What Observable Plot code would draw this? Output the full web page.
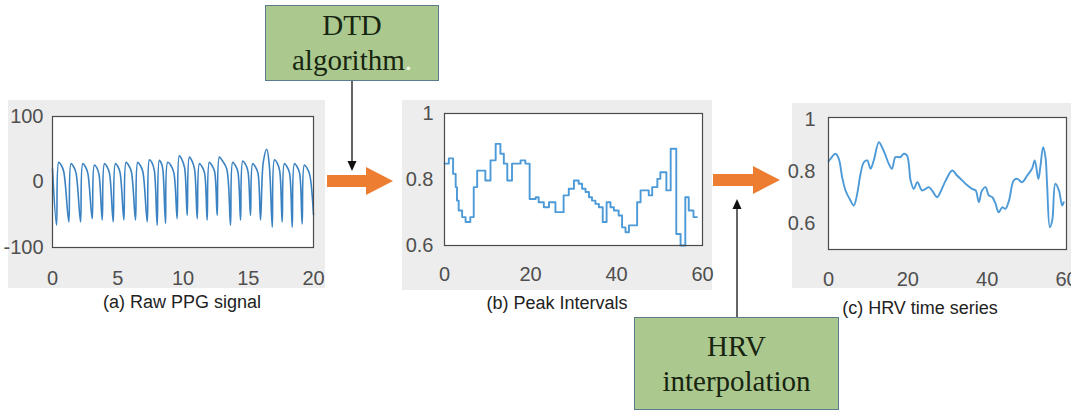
<!DOCTYPE html>
<html><head><meta charset="utf-8">
<script src="https://cdn.jsdelivr.net/npm/d3@7"></script>
<script src="https://cdn.jsdelivr.net/npm/@observablehq/plot@0.6"></script>
<style>
body{margin:0;background:#fff;}
#wrap{position:relative;width:1071px;height:412px;overflow:hidden;background:#fff;font-family:"Liberation Sans",Arial,sans-serif;}
.panel{position:absolute;background:#ededed;}
.plot{position:absolute;}
.plot svg{overflow:visible;display:block;}
.cap{position:absolute;font-size:18px;color:#222;transform:translate(-50%,-50%);white-space:nowrap;}
.box{position:absolute;background:#abc98f;border:1.5px solid #5b7c8c;box-sizing:border-box;font-family:"Liberation Serif","Times New Roman",serif;color:#17240f;text-align:center;display:flex;flex-direction:column;justify-content:center;line-height:35px;}
#overlay{position:absolute;left:0;top:0;}
</style></head>
<body><div id="wrap"></div>
<script>
// ---- Data ----
// (a) Raw PPG signal: time (s) and amplitude
const ppgT = [0, 0.31,0.48,0.66,0.86, 1.25,1.42,1.60,1.80, 2.15,2.32,2.50,2.70, 3.04,3.21,3.39,3.56, 3.81,3.98,4.16,4.36, 4.65,4.82,5.00,5.18, 5.47,5.64,5.82,6.04, 6.36,6.53,6.71,6.92, 7.26,7.43,7.61,7.80, 8.02,8.19,8.35,8.46, 8.66,8.83,9.05,9.30, 9.55,9.72,9.90,10.12, 10.32,10.49,10.67,10.88, 11.09,11.26,11.44,11.65, 11.85,12.02,12.20,12.42, 12.62,12.79,13.00,13.35, 13.64,13.81,13.99,14.20, 14.41,14.58,14.76,14.97, 15.17,15.34,15.52,15.74, 15.94,16.15,16.42,16.62, 16.84,17.01,17.19,17.40, 17.60,17.77,17.95,18.16, 18.37,18.54,18.72,18.93, 19.13,19.30,19.48,19.70, 20.0];
const ppgV = [20, -66,30,26,16, -61,28,24,14, -61,28,24,14, -56,26,22,12, -58,28,24,14, -61,28,24,14, -58,30,26,16, -58,30,26,16, -61,34,30,18, -66,33,28,18, -63,30,26,14, -56,40,35,22, -51,38,33,20, -56,28,24,14, -58,30,26,16, -51,38,33,20, -66,30,26,16, -58,32,28,17, -51,28,24,14, -58,30,50,24, -69,34,30,18, -61,28,24,14, -69,28,24,14, -64,26,22,12, -50];

// (b) Peak intervals: step start time (s) and interval (s)
const piT = [0,1.0,2.0,2.6,2.9,3.3,4.1,4.9,6.0,6.8,7.6,9.5,10.7,11.9,13.0,13.8,14.6,15.7,17.7,18.8,19.8,21.2,21.9,23.1,24.3,25.8,27.7,28.9,30.1,31.2,32.0,32.8,33.6,34.3,35.1,35.9,36.8,37.7,38.6,39.4,40.5,41.3,42.1,42.9,44.8,45.6,47.5,48.3,49.5,50.2,51.6,52.6,53.9,54.9,56.0,56.8,57.9,58.7];
const piV = [0.848,0.864,0.817,0.777,0.736,0.706,0.686,0.671,0.686,0.777,0.827,0.797,0.858,0.908,0.878,0.848,0.797,0.848,0.858,0.848,0.741,0.746,0.731,0.716,0.731,0.701,0.752,0.772,0.797,0.787,0.772,0.762,0.746,0.736,0.726,0.716,0.671,0.731,0.716,0.706,0.691,0.655,0.640,0.661,0.731,0.767,0.752,0.777,0.802,0.822,0.767,0.893,0.635,0.600,0.746,0.706,0.686,0.686];

// (c) HRV time series
const hrvT = [0.0,0.5,1.76,2.6,3.45,4.29,5.55,6.39,7.23,8.07,8.91,9.75,10.6,11.4,12.7,13.5,14.4,15.2,16.0,16.9,18.1,19.0,19.8,20.7,21.5,22.4,23.6,24.5,25.3,26.1,27.4,28.2,29.5,31.2,32.4,33.7,35.0,36.2,37.1,37.9,38.7,39.6,40.4,41.3,42.1,42.9,43.8,44.6,45.5,46.7,47.6,48.8,50.1,51.3,52.0,52.9,53.4,54.1,54.7,55.1,55.8,56.4,57.2,58.1,58.9,59.3];
const hrvV = [0.84,0.850,0.870,0.850,0.779,0.728,0.689,0.670,0.715,0.792,0.837,0.844,0.812,0.844,0.915,0.895,0.863,0.831,0.812,0.857,0.857,0.870,0.863,0.767,0.734,0.760,0.728,0.734,0.741,0.728,0.702,0.721,0.765,0.805,0.786,0.767,0.748,0.734,0.728,0.683,0.728,0.741,0.709,0.702,0.677,0.644,0.663,0.657,0.689,0.767,0.773,0.760,0.786,0.812,0.844,0.773,0.818,0.895,0.857,0.754,0.586,0.612,0.754,0.728,0.670,0.683];

// Ticks and labels
const xTicksA = [0,5,10,15,20];
const yTicksA = [-100,0,100];
const xTicksB = [0,20,40,60];
const yTicksB = [0.6,0.8,1];
const xTicksC = [0,20,40,60];
const yTicksC = [0.6,0.8,1];
const captions = ["(a) Raw PPG signal","(b) Peak Intervals","(c) HRV time series"];
const boxTexts = [["DTD","algorithm"],["HRV","interpolation"]];

// ---- Build ----
const wrap = document.getElementById("wrap");
const font = "'Liberation Sans', Arial, sans-serif";
const fmt = d => String(d);

function addPanel(l,t,w,h){const d=document.createElement("div");d.className="panel";Object.assign(d.style,{left:l+"px",top:t+"px",width:w+"px",height:h+"px"});wrap.appendChild(d);}
function addPlot(l,t,svg){const d=document.createElement("div");d.className="plot";d.style.left=l+"px";d.style.top=t+"px";d.appendChild(svg);wrap.appendChild(d);}
function addCap(text,x,y){const d=document.createElement("div");d.className="cap";d.textContent=text;d.style.left=x+"px";d.style.top=y+"px";wrap.appendChild(d);}

const base = (w,h,ml,mr,mt,mb) => ({width:w,height:h,marginLeft:ml,marginRight:mr,marginTop:mt,marginBottom:mb,
  style:{background:"transparent",fontFamily:font,fontSize:"20px",color:"#4f4f4f",overflow:"visible"}});

addPanel(8,100,317,188);
addPanel(402,100,310,190);
addPanel(792,103,279,185);

const ppg = ppgT.map((t,i)=>({t, v:ppgV[i]}));
const pi = piT.map((t,i)=>({t, v:piV[i]}));
const hrv = hrvT.map((t,i)=>({t, v:hrvV[i]}));

addPlot(8,100, Plot.plot({...base(317,188,44,12,16,41),
  x:{domain:[0,20],ticks:xTicksA,tickSize:0,tickPadding:23,label:null,tickFormat:fmt},
  y:{domain:[-100,100],ticks:yTicksA,tickSize:0,tickPadding:9,label:null,tickFormat:fmt},
  marks:[Plot.frame({fill:"white",stroke:null}),
    Plot.line(ppg,{x:"t",y:"v",stroke:"#3a82c2",strokeWidth:1.6,curve:"catmull-rom"}),
    Plot.frame({stroke:"#4a4a4a",strokeWidth:1.2})]}));

addPlot(402,100, Plot.plot({...base(310,190,42,10,13,45),
  x:{domain:[0,60],ticks:xTicksB,tickSize:0,tickPadding:21,label:null,tickFormat:fmt},
  y:{domain:[0.6,1],ticks:yTicksB,tickSize:0,tickPadding:11,label:null,tickFormat:fmt},
  marks:[Plot.frame({fill:"white",stroke:null}),
    Plot.line(pi,{x:"t",y:"v",stroke:"#4d9ad8",strokeWidth:1.9,curve:"step-after"}),
    Plot.frame({stroke:"#4a4a4a",strokeWidth:1.2})]}));

addPlot(792,100, Plot.plot({...base(279,188,36,5,17,39),
  x:{domain:[0,60],ticks:xTicksC,tickSize:0,tickPadding:22,label:null,tickFormat:fmt},
  y:{domain:[0.5,1.01],ticks:yTicksC,tickSize:0,tickPadding:13,label:null,tickFormat:fmt},
  marks:[Plot.frame({fill:"white",stroke:null}),
    Plot.line(hrv,{x:"t",y:"v",stroke:"#4d9ad8",strokeWidth:1.9,curve:"catmull-rom"}),
    Plot.frame({stroke:"#4a4a4a",strokeWidth:1.2})]}));

addCap(captions[0],182,302);
addCap(captions[1],557,303);
addCap(captions[2],920,308);

// Boxes
function addBox(l,t,w,h,lines,size){const d=document.createElement("div");d.className="box";
  Object.assign(d.style,{left:l+"px",top:t+"px",width:w+"px",height:h+"px",fontSize:size+"px"});
  lines.forEach(s=>{const p=document.createElement("div");p.textContent=s;d.appendChild(p);});wrap.appendChild(d);return d;}
const b1 = addBox(265,5,174,76,boxTexts[0],29);
const dot=document.createElement("span");dot.textContent=".";dot.style.color="#eef3e8";b1.lastChild.appendChild(dot);
addBox(634,317,205,93,boxTexts[1],29);

// Arrows overlay
const ns="http://www.w3.org/2000/svg";
const ov=document.createElementNS(ns,"svg");ov.id="overlay";ov.setAttribute("width",1071);ov.setAttribute("height",412);
ov.innerHTML = `
<polygon points="327,175 366,175 366,167 393,181 366,195 366,187 327,187" fill="#ed7d31"/>
<polygon points="713,174 753,174 753,166 780,180 753,194 753,186 713,186" fill="#ed7d31"/>
<line x1="352" y1="81" x2="352" y2="162" stroke="#111" stroke-width="1.3"/>
<polygon points="347.5,161 356.5,161 352,171" fill="#111"/>
<line x1="737" y1="317" x2="737" y2="208" stroke="#111" stroke-width="1.3"/>
<polygon points="732.5,209 741.5,209 737,199" fill="#111"/>`;
wrap.appendChild(ov);
</script>
</body></html>
